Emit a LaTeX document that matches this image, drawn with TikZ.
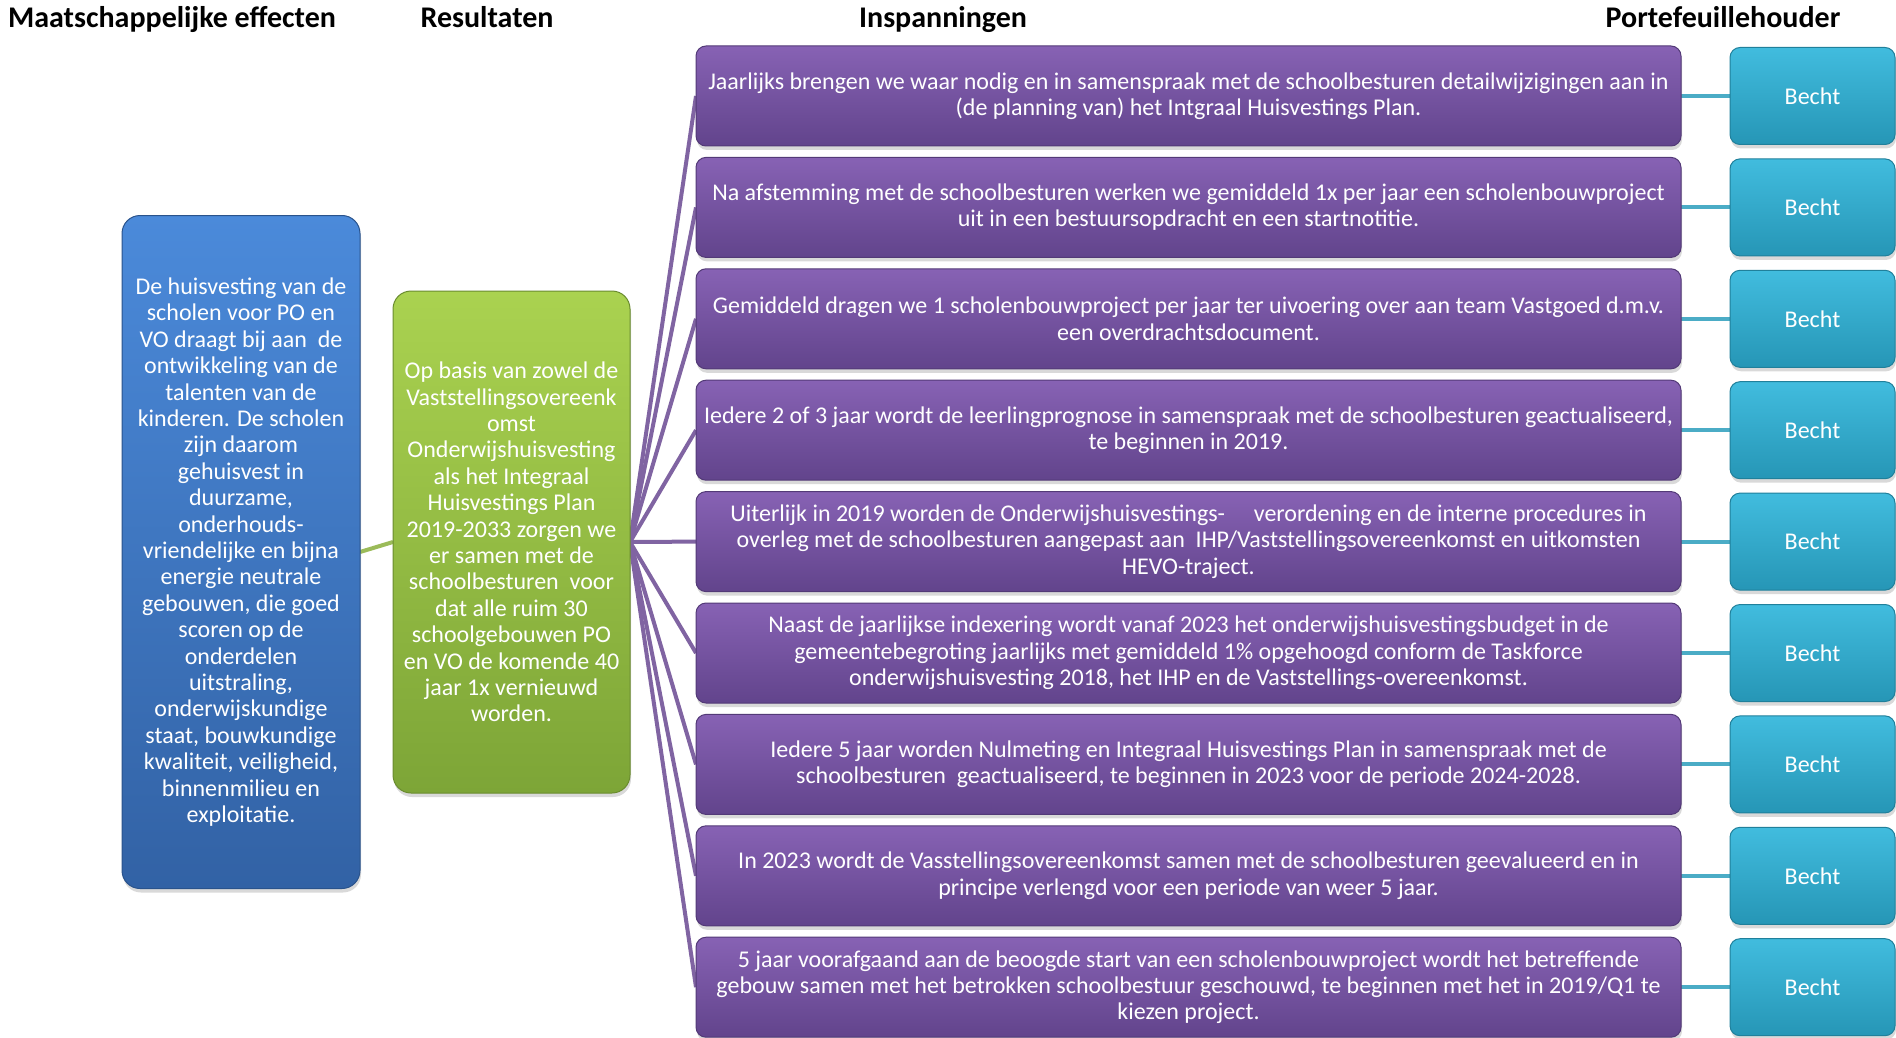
\documentclass[tikz,border=0pt]{standalone}
\usepackage{fontspec}
\setmainfont{Carlito}
\usetikzlibrary{positioning, shadows, backgrounds}
\definecolor{blueline}{RGB}{79,129,189}
\definecolor{greenline}{RGB}{155,187,89}
\definecolor{purpleline}{RGB}{128,100,162}
\definecolor{aqualine}{RGB}{75,172,198}
\definecolor{bluetop}{RGB}{75,138,218}
\definecolor{bluebot}{RGB}{50,98,165}
\definecolor{greentop}{RGB}{170,210,80}
\definecolor{greenbot}{RGB}{125,165,55}
\definecolor{purpletop}{RGB}{135,98,180}
\definecolor{purplebot}{RGB}{98,68,140}
\definecolor{aquatop}{RGB}{65,188,222}
\definecolor{aquabot}{RGB}{38,150,182}

\begin{document}
\begin{tikzpicture}[
  x=1pt, y=-1pt,
  every node/.style={font=\fontsize{24}{26.4}\selectfont, text=white, align=center},
  head/.style={font=\fontsize{30}{32}\selectfont\bfseries, text=black, anchor=base},
  box/.style={inner sep=2pt, outer sep=0pt, line width=1pt,
    drop shadow={opacity=0.3, shadow xshift=1pt, shadow yshift=-4pt}},
  effectbox/.style={box, rounded corners=18pt, draw=bluebot!85!black,
    top color=bluetop, bottom color=bluebot,
    minimum width=238pt, minimum height=673pt},
  resultbox/.style={box, rounded corners=18pt, draw=greenbot!85!black,
    top color=greentop, bottom color=greenbot,
    minimum width=237pt, minimum height=502pt},
  effortbox/.style={box, rounded corners=10pt, draw=purplebot!85!black,
    top color=purpletop, bottom color=purplebot,
    minimum width=985pt, minimum height=100pt},
  holderbox/.style={box, rounded corners=10pt, draw=aquabot!85!black,
    top color=aquatop, bottom color=aquabot,
    minimum width=165pt, minimum height=97pt},
  link/.style={line width=4pt},
]
\useasboundingbox (0,0) rectangle (1896,1038);

% column headers
\node[head] (h1) at (172,28) {Maatschappelijke effecten};
\node[head] (h2) at (487,28) {Resultaten};
\node[head] (h3) at (943,28) {Inspanningen};
\node[head] (h4) at (1723,28) {Portefeuillehouder};

\node[effectbox] (effect) at (241,552) {De huisvesting van de\\scholen voor PO en\\VO draagt bij aan\ \ de\\ontwikkeling van de\\talenten van de\\kinderen. De scholen\\zijn daarom\\gehuisvest in\\duurzame,\\onderhouds-\\vriendelijke en bijna\\energie neutrale\\gebouwen, die goed\\scoren op de\\onderdelen\\uitstraling,\\onderwijskundige\\staat, bouwkundige\\kwaliteit, veiligheid,\\binnenmilieu en\\exploitatie.};

\node[resultbox] (result) at (511.5,542) {Op basis van zowel de\\Vaststellingsovereenk\\omst\\Onderwijshuisvesting\\als het Integraal\\Huisvestings Plan\\2019-2033 zorgen we\\er samen met de\\schoolbesturen\ \ voor\\dat alle ruim 30\\schoolgebouwen PO\\en VO de komende 40\\jaar 1x vernieuwd\\worden.};

\node[effortbox] (insp1) at (1188.5,96) {Jaarlijks brengen we waar nodig en in samenspraak met de schoolbesturen detailwijzigingen aan in\\(de planning van) het Intgraal Huisvestings Plan.};
\node[effortbox, below=11.4pt of insp1] (insp2) {Na afstemming met de schoolbesturen werken we gemiddeld 1x per jaar een scholenbouwproject\\uit in een bestuursopdracht en een startnotitie.};
\node[effortbox, below=11.4pt of insp2] (insp3) {Gemiddeld dragen we 1 scholenbouwproject per jaar ter uivoering over aan team Vastgoed d.m.v.\\een overdrachtsdocument.};
\node[effortbox, below=11.4pt of insp3] (insp4) {Iedere 2 of 3 jaar wordt de leerlingprognose in samenspraak met de schoolbesturen geactualiseerd,\\te beginnen in 2019.};
\node[effortbox, below=11.4pt of insp4] (insp5) {Uiterlijk in 2019 worden de Onderwijshuisvestings-\hspace{1.2em}verordening en de interne procedures in\\overleg met de schoolbesturen aangepast aan\ \ IHP/Vaststellingsovereenkomst en uitkomsten\\HEVO-traject.};
\node[effortbox, below=11.4pt of insp5] (insp6) {Naast de jaarlijkse indexering wordt vanaf 2023 het onderwijshuisvestingsbudget in de\\gemeentebegroting jaarlijks met gemiddeld 1\% opgehoogd conform de Taskforce\\onderwijshuisvesting 2018, het IHP en de Vaststellings-overeenkomst.};
\node[effortbox, below=11.4pt of insp6] (insp7) {Iedere 5 jaar worden Nulmeting en Integraal Huisvestings Plan in samenspraak met de\\schoolbesturen\ \ geactualiseerd, te beginnen in 2023 voor de periode 2024-2028.};
\node[effortbox, below=11.4pt of insp7] (insp8) {In 2023 wordt de Vasstellingsovereenkomst samen met de schoolbesturen geevalueerd en in\\principe verlengd voor een periode van weer 5 jaar.};
\node[effortbox, below=11.4pt of insp8] (insp9) {5 jaar voorafgaand aan de beoogde start van een scholenbouwproject wordt het betreffende\\gebouw samen met het betrokken schoolbestuur geschouwd, te beginnen met het in 2019/Q1 te\\kiezen project.};

% holders and connectors
\foreach \i in {1,...,9} {
  \node[holderbox, right=49pt of insp\i] (holder\i) {Becht};
  \begin{scope}[on background layer]
    \draw[link, purpleline] (result.east) -- (insp\i.west);
    \draw[link, aqualine] (insp\i.east) -- (holder\i.west);
  \end{scope}
}
\begin{scope}[on background layer]
  \draw[link, greenline] (effect.east) -- (result.west);
\end{scope}
\end{tikzpicture}
\end{document}
